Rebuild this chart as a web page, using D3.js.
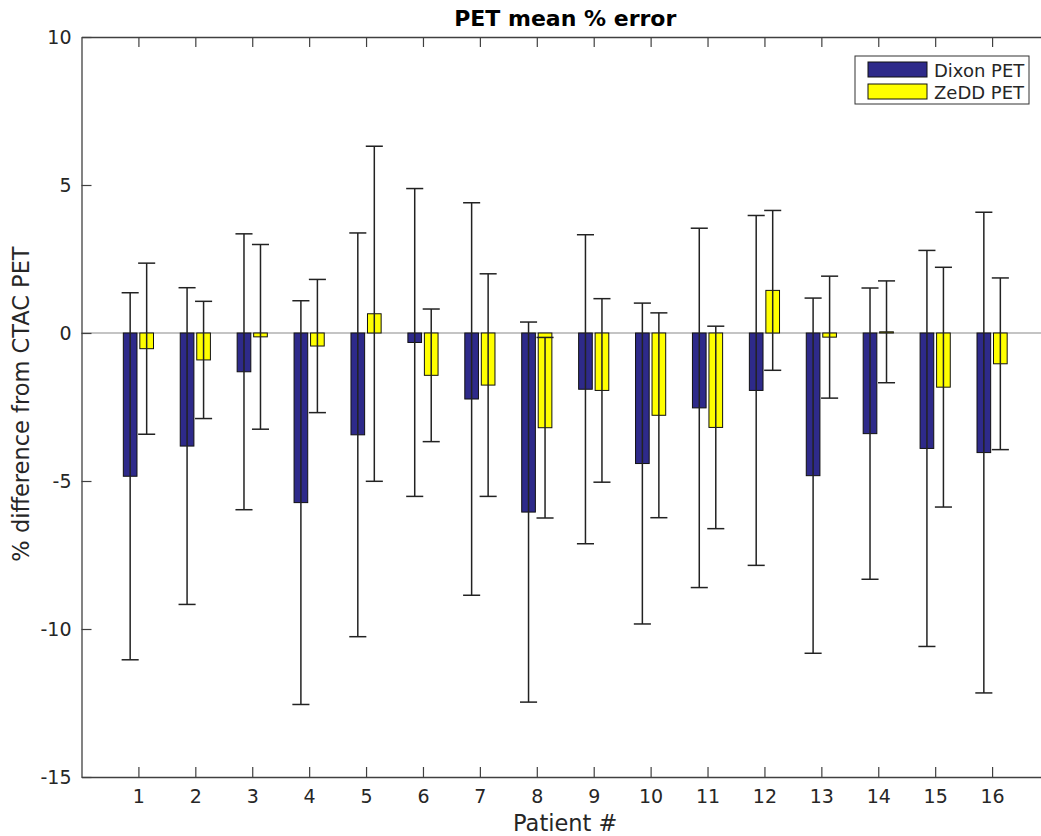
<!DOCTYPE html>
<html lang="en">
<head>
    <meta charset="utf-8">
    <title>PET mean % error</title>
    <script src="https://cdn.jsdelivr.net/npm/d3@7"></script>
    <style>
        body { margin: 0; background: #fff; }
        svg text { font-family: "DejaVu Sans", sans-serif; fill: #262626; }
    </style>
</head>
<body>
<script>
    // values (% difference from CTAC PET)
    var patients = [1, 2, 3, 4, 5, 6, 7, 8, 9, 10, 11, 12, 13, 14, 15, 16];
    var dixonMean = [-4.84, -3.82, -1.31, -5.73, -3.44, -0.32, -2.23, -6.05, -1.90, -4.41, -2.53, -1.94, -4.82, -3.40, -3.90, -4.04];
    var dixonErr  = [6.20, 5.35, 4.66, 6.82, 6.82, 5.20, 6.63, 6.42, 5.22, 5.42, 6.07, 5.91, 6.00, 4.92, 6.69, 8.12];
    var zeddMean  = [-0.53, -0.91, -0.13, -0.44, 0.65, -1.43, -1.76, -3.20, -1.94, -2.78, -3.19, 1.44, -0.14, 0.04, -1.83, -1.04];
    var zeddErr   = [2.89, 1.98, 3.12, 2.25, 5.66, 2.24, 3.76, 3.05, 3.10, 3.46, 3.42, 2.70, 2.06, 1.72, 4.05, 2.90];
    var yTicks = [-15, -10, -5, 0, 5, 10];
    var seriesNames = ["Dixon PET", "ZeDD PET"];
    var seriesColors = ["#2e2a8a", "#ffff00"];

    var w = 1041, h = 836;
    var x = d3.scaleLinear().domain([0, 17]).range([81.5, 1049]);
    var y = d3.scaleLinear().domain([-15, 10]).range([777, 37]);
    var barW = 0.24, offset = 0.145, capW = 0.3;

    var svg = d3.select("body").append("svg")
            .attr("width", w)
            .attr("height", h);

    var series = [
        { name: seriesNames[0], color: seriesColors[0], mean: dixonMean, err: dixonErr, off: -offset },
        { name: seriesNames[1], color: seriesColors[1], mean: zeddMean, err: zeddErr, off: offset }
    ];

    // zero baseline
    svg.append("line")
            .attr("x1", x(0)).attr("x2", x(17))
            .attr("y1", y(0)).attr("y2", y(0))
            .attr("stroke", "#8a8a8a").attr("stroke-width", 1.2);

    series.forEach(function (s) {
        var g = svg.append("g");
        g.selectAll("rect")
                .data(patients)
                .enter()
                .append("rect")
                .attr("x", function (d) { return x(d + s.off - barW / 2); })
                .attr("width", x(barW) - x(0))
                .attr("y", function (d, i) { return y(Math.max(0, s.mean[i])); })
                .attr("height", function (d, i) { return Math.abs(y(s.mean[i]) - y(0)); })
                .attr("fill", s.color)
                .attr("stroke", "#111")
                .attr("stroke-width", 1);
    });

    // error bars on top of the bars
    series.forEach(function (s) {
        var g = svg.append("g").attr("stroke", "#222").attr("stroke-width", 1.5);
        patients.forEach(function (d, i) {
            var cx = x(d + s.off);
            var lo = y(s.mean[i] - s.err[i]), hi = y(s.mean[i] + s.err[i]);
            g.append("line").attr("x1", cx).attr("x2", cx).attr("y1", lo).attr("y2", hi);
            [lo, hi].forEach(function (yy) {
                g.append("line")
                        .attr("x1", x(d + s.off - capW / 2)).attr("x2", x(d + s.off + capW / 2))
                        .attr("y1", yy).attr("y2", yy);
            });
        });
    });

    // axes, ticks pointing inward
    var axisColor = "#404040";
    var xAxis = svg.append("g")
            .attr("transform", "translate(0," + y(-15) + ")")
            .call(d3.axisBottom(x).tickValues(patients).tickSizeInner(-10).tickSizeOuter(0).tickPadding(13));
    var topAxis = svg.append("g")
            .attr("transform", "translate(0," + y(10) + ")")
            .call(d3.axisTop(x).tickValues(patients).tickFormat("").tickSizeInner(-10).tickSizeOuter(0));
    var yAxis = svg.append("g")
            .attr("transform", "translate(" + x(0) + ",0)")
            .call(d3.axisLeft(y).tickValues(yTicks).tickFormat(function (d) { return String(d); })
                    .tickSizeInner(-10).tickSizeOuter(0).tickPadding(10));

    [xAxis, topAxis, yAxis].forEach(function (a) {
        a.select(".domain").attr("stroke", axisColor).attr("stroke-width", 1.3);
        a.selectAll(".tick line").attr("stroke", axisColor).attr("stroke-width", 1.2);
        a.selectAll("text").attr("font-size", "19px").attr("font-family", "DejaVu Sans").attr("fill", "#262626");
    });

    // title and axis labels
    svg.append("text")
            .attr("x", x(8.5)).attr("y", 26)
            .attr("text-anchor", "middle")
            .attr("font-size", "22px").attr("font-weight", "bold")
            .style("fill", "#000")
            .text("PET mean % error");

    svg.append("text")
            .attr("x", x(8.5)).attr("y", 831)
            .attr("text-anchor", "middle")
            .attr("font-size", "22.5px")
            .text("Patient #");

    svg.append("text")
            .attr("transform", "translate(29,404) rotate(-90)")
            .attr("text-anchor", "middle")
            .attr("font-size", "22.5px")
            .text("% difference from CTAC PET");

    // legend
    var lg = svg.append("g");
    lg.append("rect")
            .attr("x", 855).attr("y", 56).attr("width", 174).attr("height", 48)
            .attr("fill", "#fff").attr("stroke", "#333").attr("stroke-width", 1);
    series.forEach(function (s, i) {
        lg.append("rect")
                .attr("x", 868).attr("y", 62 + i * 22).attr("width", 59).attr("height", 15)
                .attr("fill", s.color).attr("stroke", "#111").attr("stroke-width", 1);
        lg.append("text")
                .attr("x", 934).attr("y", 77 + i * 22)
                .attr("font-size", "18px")
                .text(s.name);
    });
</script>
</body>
</html>
